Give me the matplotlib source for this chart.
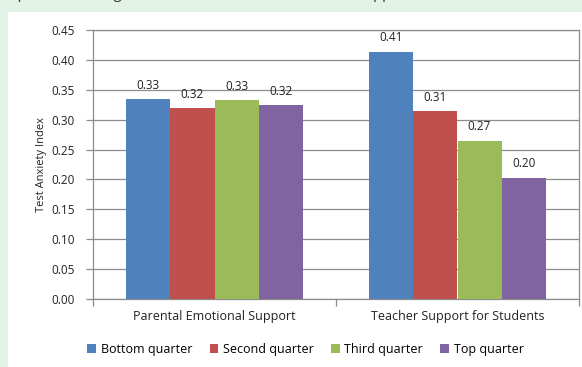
import matplotlib
matplotlib.use("Agg")
import matplotlib.pyplot as plt
import numpy as np
from matplotlib.patches import Rectangle, Patch

plt.rcParams['font.family'] = ['Open Sans', 'DejaVu Sans']

categories = ["Parental Emotional Support", "Teacher Support for Students"]
series = ["Bottom quarter", "Second quarter", "Third quarter", "Top quarter"]
values = {
    "Bottom quarter": [0.334, 0.414],
    "Second quarter": [0.319, 0.314],
    "Third quarter": [0.333, 0.265],
    "Top quarter": [0.324, 0.203],
}
colors = ["#4F81BD", "#C0504D", "#9BBB59", "#8064A2"]
yticks = [0.00, 0.05, 0.10, 0.15, 0.20, 0.25, 0.30, 0.35, 0.40, 0.45]

fig = plt.figure(figsize=(5.82, 3.67), dpi=100)
fig.patch.set_facecolor("#E3F2E6")
# white chart panel
fig.add_artist(Rectangle((8/582, 0), 1 - 8/582, 1 - 12/367, transform=fig.transFigure,
                         facecolor="white", edgecolor="none", zorder=0))
# title, mostly cut off at the top edge as in the reference
fig.text(0.5, 1 + 1.5/367, "Comparison Among Parents' Emotional and Teachers' Support and Students' Test Anxiety",
         ha="center", va="baseline", fontsize=10.5, color="#333333")

ax = fig.add_axes([93/582, 1 - 299/367, (579 - 93)/582, (299 - 30)/367])
ax.set_facecolor("white")

x = np.arange(len(categories))
group_w = 0.725
bw = group_w / len(series)
for i, (s, c) in enumerate(zip(series, colors)):
    pos = x - group_w/2 + bw*(i + 0.5)
    ax.bar(pos, values[s], width=bw, color=c, edgecolor="none", zorder=3, label=s)
    for p, v in zip(pos, values[s]):
        ax.text(p, v + 0.012, f"{v:.2f}", ha="center", va="bottom", fontsize=8.5, color="#222222", zorder=4)

ax.set_xlim(-0.5, len(categories) - 0.5)
ax.set_ylim(0, 0.45)
ax.set_yticks(yticks)
ax.set_yticklabels([f"{t:.2f}" for t in yticks], fontsize=8.5, color="#222222")
ax.yaxis.grid(True, color="#8C8C8C", linewidth=0.9, zorder=0)
ax.set_axisbelow(True)

ax.set_xticks(x)
ax.set_xticklabels(categories, fontsize=9, color="#222222")
ax.tick_params(axis="x", length=0, pad=8)
ax.set_xticks([-0.5, 0.5, 1.5], minor=True)
ax.tick_params(axis="x", which="minor", length=5, color="#8C8C8C", width=0.9)
ax.tick_params(axis="y", length=5, color="#8C8C8C", width=0.9, pad=8)

for sp in ax.spines.values():
    sp.set_color("#8C8C8C")
    sp.set_linewidth(0.9)

ax.set_ylabel("Test Anxiety Index", fontsize=8, color="#222222", labelpad=3)

handles = [Patch(facecolor=c, edgecolor="none") for c in colors]
fig.legend(handles, series, loc="center", bbox_to_anchor=(0.525, 1 - 349/367), ncol=4,
           frameon=False, fontsize=9, handlelength=0.7, handleheight=0.7,
           handletextpad=0.35, columnspacing=1.4)

fig.savefig("out.png", dpi=100, facecolor=fig.get_facecolor())
